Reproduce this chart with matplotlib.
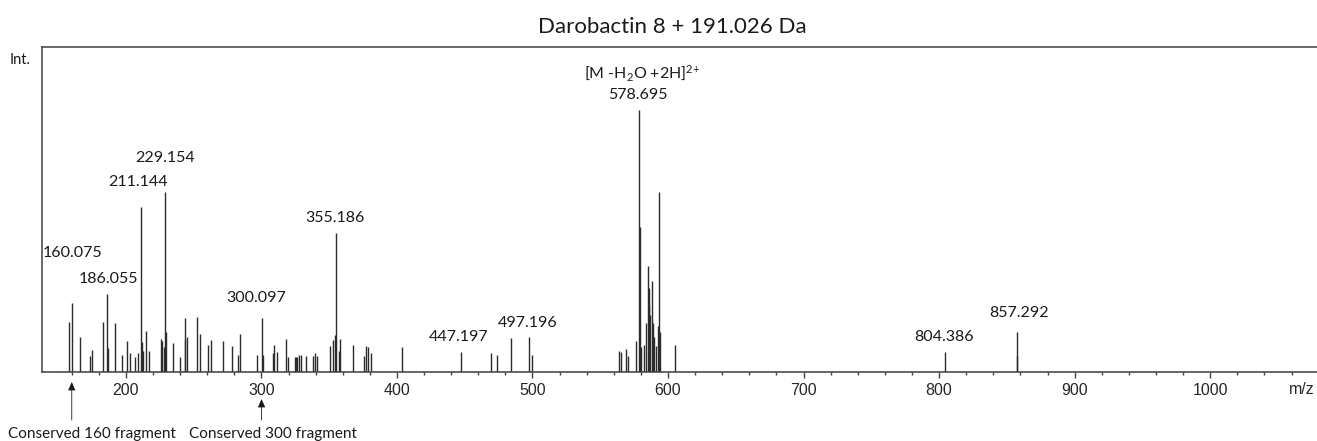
import matplotlib
matplotlib.use("Agg")
import matplotlib.pyplot as plt
from matplotlib.ticker import FixedLocator

plt.rcParams["mathtext.fontset"] = "custom"
plt.rcParams["mathtext.rm"] = "Lato"
plt.rcParams["mathtext.default"] = "regular"

# Peak list: m/z and relative intensity (% of base peak)
mz = [157.7, 160.075, 165.9, 173.5, 175.0, 182.9, 186.055, 186.8, 192.2, 196.8,
      200.7, 203.2, 206.6, 208.8, 211.144, 211.8, 212.8, 215.0, 217.2, 225.8,
      227.0, 228.2, 229.154, 229.7, 235.1, 240.0, 243.4, 243.9, 245.1, 252.7,
      254.6, 260.8, 263.0, 271.8, 278.4, 282.6, 284.5, 296.8, 300.097, 301.5,
      308.6, 309.6, 311.5, 318.4, 319.8, 324.5, 325.5, 326.5, 327.7, 328.9,
      332.8, 338.2, 339.5, 340.7, 350.5, 352.9, 354.4, 355.186, 356.9, 357.9,
      367.4, 376.0, 377.5, 378.7, 381.1, 403.5, 447.197, 469.7, 474.1, 484.0,
      497.196, 499.4, 564.0, 565.5, 569.2, 570.2, 576.1, 578.695, 579.2, 580.2,
      582.5, 583.7, 585.0, 585.7, 586.2, 586.9, 587.9, 588.7, 589.4, 591.1,
      592.4, 593.6, 594.3, 605.2, 804.386, 857.292, 857.8]
intensity = [18.9, 26.2, 13.4, 6.1, 8.4, 18.9, 29.5, 8.9, 18.5, 6.5,
             11.5, 7.0, 5.7, 7.0, 63.0, 11.3, 7.8, 15.7, 8.0, 12.5,
             11.5, 9.3, 68.6, 15.0, 11.1, 5.7, 11.9, 20.4, 13.4, 21.0,
             14.4, 10.3, 11.9, 11.6, 9.7, 6.5, 14.4, 6.5, 20.4, 6.5,
             6.9, 10.0, 7.3, 12.3, 5.7, 5.6, 5.6, 5.7, 6.5, 6.5,
             5.9, 6.1, 6.9, 6.1, 9.7, 12.1, 13.8, 53.0, 8.0, 12.3,
             10.3, 6.1, 9.6, 9.2, 7.1, 9.2, 7.3, 7.0, 6.5, 12.8,
             13.4, 6.5, 8.0, 7.3, 8.8, 6.1, 11.5, 100.0, 55.5, 9.2,
             10.0, 18.4, 40.6, 32.0, 25.4, 21.5, 34.6, 18.4, 13.4, 9.6,
             17.6, 68.6, 15.3, 10.0, 7.3, 15.3, 6.1]

# Peaks carrying an m/z label, with label offsets in pixels (dx, dy above the peak top)
labelled_mz = [160.075, 186.055, 211.144, 229.154, 300.097, 355.186,
               447.197, 497.196, 578.695, 804.386, 857.292]
label_offsets = [(1, 50), (1, 15), (-3, 25), (0, 34), (-5, 20), (-1, 15),
                 (-2, 15), (-1, 14), (-1, 15), (-1, 15), (2, 19)]

title = "Darobactin 8 + 191.026 Da"
ion_label = "[M -H$_2$O +2H]$^{2{+}}$"
fragment_notes = [("Conserved 160 fragment", 160.075), ("Conserved 300 fragment", 300.097)]

W, H, DPI = 1317, 441, 100
fig = plt.figure(figsize=(W / DPI, H / DPI), dpi=DPI)
ax = fig.add_axes([41.7 / W, 1 - 371.5 / H, 1 - 41.7 / W, (371.5 - 47.5) / H])

peak_color = "#2b2b2b"
ax.vlines(mz, 0, intensity, color=peak_color, lw=1.0)
ax.plot([148, 1080], [0, 0], color=peak_color, lw=0.9)

ax.set_xlim(137.9, 1078.8)
ax.set_ylim(0, 124.1)

for side in ("left", "top", "bottom"):
    ax.spines[side].set_color("#404040")
    ax.spines[side].set_linewidth(1.1)
ax.spines["right"].set_visible(False)

ax.yaxis.set_visible(False)
ax.xaxis.set_major_locator(FixedLocator(range(200, 1001, 100)))
ax.xaxis.set_minor_locator(FixedLocator([v for v in range(160, 1080, 20) if v % 100]))
ax.tick_params(axis="x", which="major", direction="out", length=4, width=1.0,
               color="#404040", labelsize=11.5, pad=4, labelcolor="#262626")
ax.tick_params(axis="x", which="minor", direction="out", length=2.2, width=1.0,
               color="#404040")
for lbl in ax.get_xticklabels():
    lbl.set_family("Liberation Sans")

label_font = dict(family="Lato", fontsize=11.5, color="#1a1a1a")
px2pt = 72.0 / DPI

peak_height = dict(zip(mz, intensity))
for m, (dx, dy) in zip(labelled_mz, label_offsets):
    ax.annotate(f"{m:.3f}", xy=(m, peak_height[m]), xytext=(dx * px2pt, dy * px2pt),
                textcoords="offset points", ha="center", va="center", **label_font)

ax.annotate(ion_label, xy=(578.695, 100.0), xytext=(3 * px2pt, 37 * px2pt),
            textcoords="offset points", ha="center", va="center", **label_font)

# m/z unit in the tick-label row
ax.annotate("m/z", xy=(1067.7, 0), xycoords=("data", "axes fraction"),
            xytext=(0, -18 * px2pt), textcoords="offset points",
            ha="center", va="center", family="Liberation Sans", fontsize=11.5,
            color="#262626")

# Fragment arrows below the axis
arrow_tops = [382, 399]
for (text, m), top in zip(fragment_notes, arrow_tops):
    ax.annotate("", xy=(m, 1 - top / H), xycoords=("data", "figure fraction"),
                xytext=(m, 1 - 420 / H), textcoords=("data", "figure fraction"),
                arrowprops=dict(arrowstyle="-|>,head_length=0.5,head_width=0.22",
                                color="#1a1a1a", lw=0.6, shrinkA=0, shrinkB=0))
fig.text(92 / W, 1 - 434 / H, fragment_notes[0][0], ha="center", va="center",
         family="Lato", fontsize=11, color="#1a1a1a")
fig.text(273 / W, 1 - 434 / H, fragment_notes[1][0], ha="center", va="center",
         family="Lato", fontsize=11, color="#1a1a1a")

fig.text(20 / W, 1 - 60 / H, "Int.", ha="center", va="center",
         family="Lato", fontsize=10.5, color="#1a1a1a")
fig.text(672 / W, 1 - 27 / H, title, ha="center", va="center",
         family="Lato", fontsize=16, color="#1a1a1a")

fig.savefig("out.png", dpi=DPI)
